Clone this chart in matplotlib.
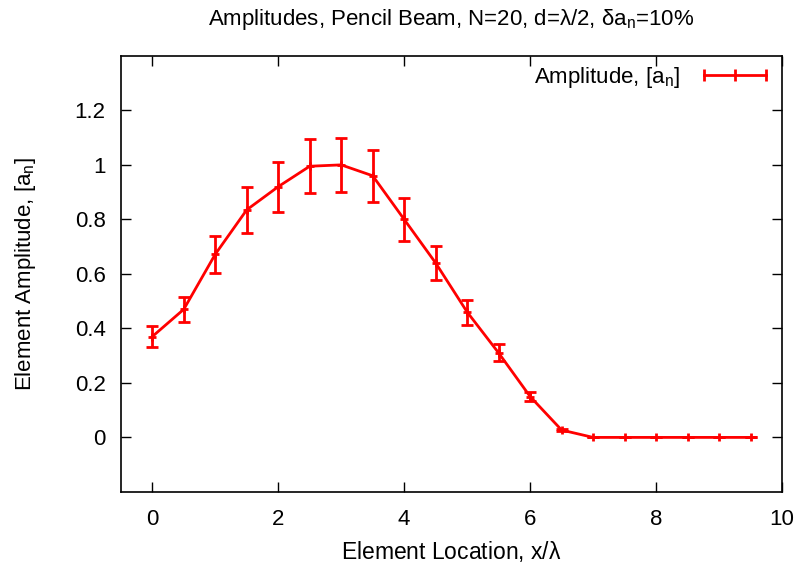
import matplotlib
matplotlib.use("Agg")
import matplotlib.pyplot as plt
from matplotlib.lines import Line2D

plt.rcParams['font.family'] = ['Liberation Sans', 'DejaVu Sans']
plt.rcParams['mathtext.fontset'] = 'custom'
plt.rcParams['mathtext.rm'] = 'Liberation Sans'
plt.rcParams['mathtext.it'] = 'Liberation Sans'

# element positions (x/lambda) and amplitudes
positions = [0, 0.5, 1, 1.5, 2, 2.5, 3, 3.5, 4, 4.5,
             5, 5.5, 6, 6.5, 7, 7.5, 8, 8.5, 9, 9.5]
amplitudes = [0.37, 0.47, 0.672, 0.835, 0.92, 0.995, 1.0, 0.96, 0.80, 0.64,
              0.46, 0.31, 0.15, 0.027, 0, 0, 0, 0, 0, 0]
# 10% amplitude error
errors = [0.1 * a for a in amplitudes]

fig = plt.figure(figsize=(8, 5.7), dpi=100)
ax = fig.add_axes([0.151, 0.137, 0.8265, 0.765])

ax.errorbar(positions, amplitudes, yerr=errors, color='red', lw=2,
            marker='+', ms=6, mew=2, capsize=4, capthick=2, elinewidth=2)

ax.set_xlim(-0.5, 10)
ax.set_ylim(-0.2, 1.4)
ax.set_xticks([0, 2, 4, 6, 8, 10])
ax.set_yticks([0, 0.2, 0.4, 0.6, 0.8, 1, 1.2])
ax.set_yticklabels(['0', '0.2', '0.4', '0.6', '0.8', '1', '1.2'])
ax.tick_params(direction='in', top=True, right=True, length=7, width=1,
               labelsize=16)
ax.tick_params(axis='x', pad=12)
ax.tick_params(axis='y', pad=11)
for s in ax.spines.values():
    s.set_linewidth(1.2)

ax.set_xlabel(r'Element Location, x/$\lambda$', fontsize=16.5, labelpad=7)
ax.set_ylabel(r'Element Amplitude, [a$_{\rm n}$]', fontsize=16, labelpad=26)
ax.set_title(r'Amplitudes, Pencil Beam, N=20, d=$\lambda$/2, $\delta$a$_{\rm n}$=10%',
             fontsize=16, pad=22)

# gnuplot-style key: horizontal line with end caps, sample after text
key = Line2D([], [], color='red', lw=2, marker='|', ms=9, mew=2)
ax.legend([key], [r'Amplitude, [a$_{\rm n}$]'], loc='upper right',
          frameon=False, markerfirst=False, fontsize=16, numpoints=3,
          handlelength=3.4, borderaxespad=0.1, handletextpad=0.8,
          borderpad=0.3)

fig.savefig('out.png', dpi=100)
